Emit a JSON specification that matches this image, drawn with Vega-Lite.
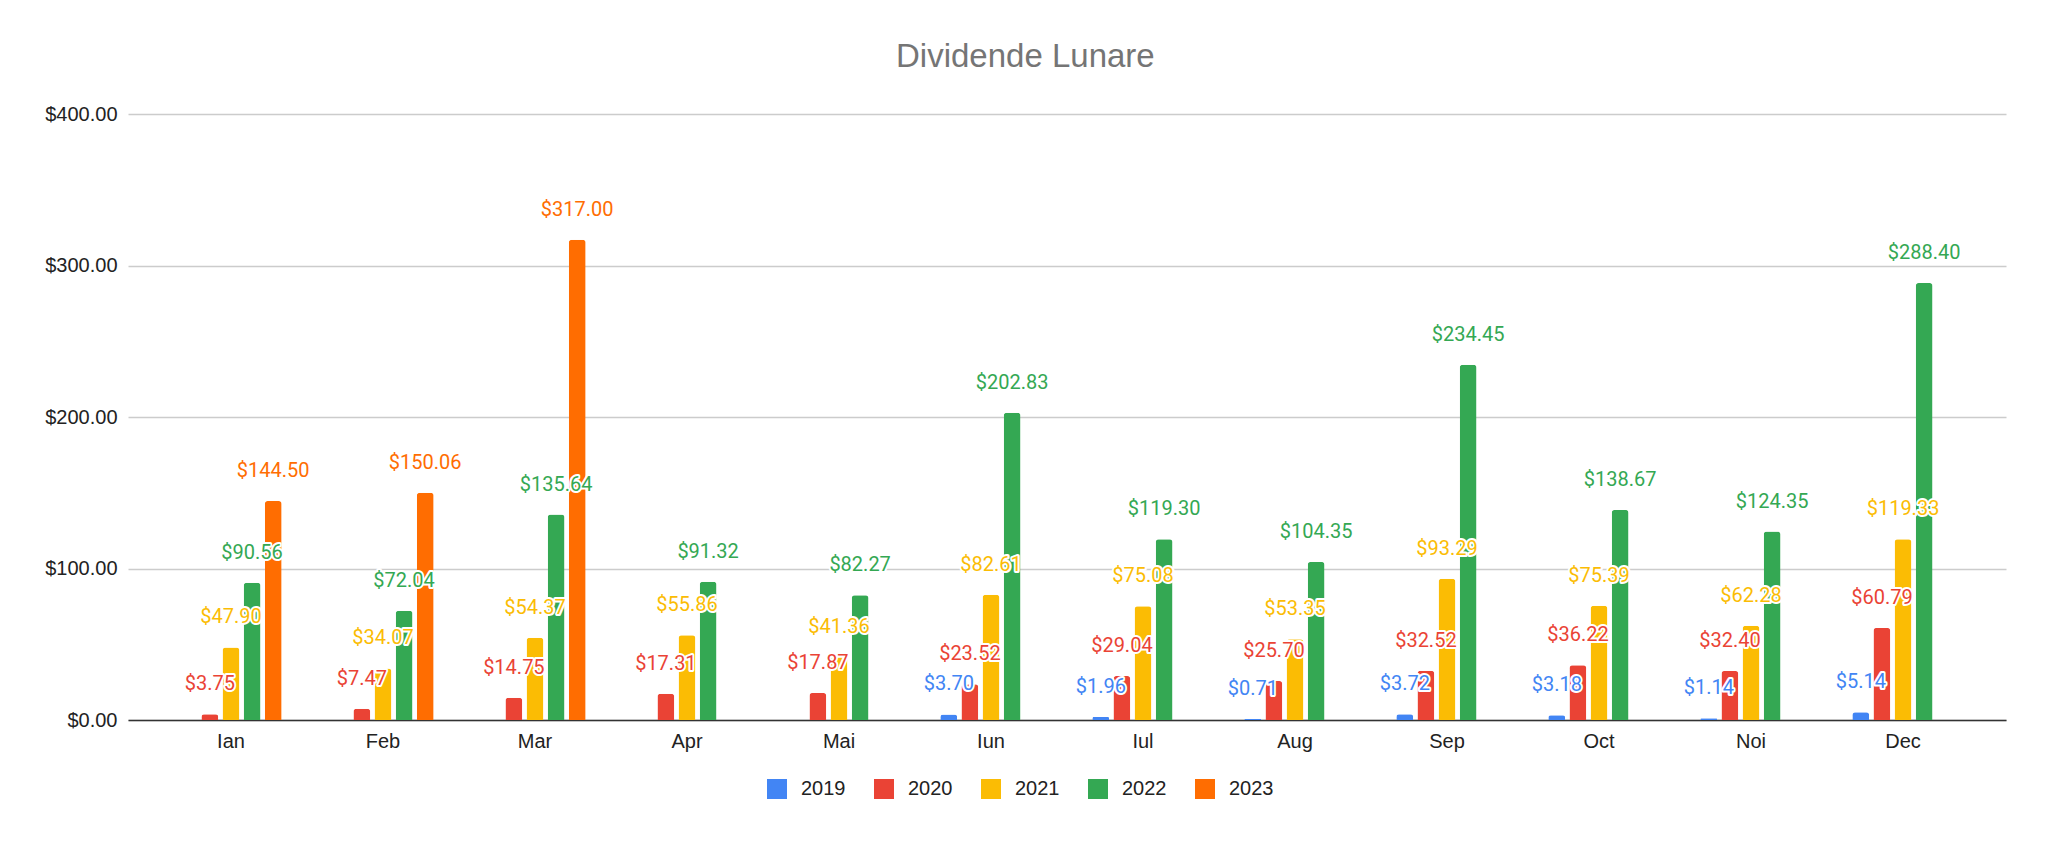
{
  "$schema": "https://vega.github.io/schema/vega-lite/v6.json",
  "width": 1878,
  "height": 606,
  "autosize": {"type": "none"},
  "padding": {"left": 128, "top": 114, "right": 42, "bottom": 121},
  "background": "white",
  "title": {
    "text": "Dividende Lunare",
    "font": "Liberation Sans",
    "fontSize": 33,
    "fontWeight": "normal",
    "color": "#757575",
    "anchor": "middle",
    "frame": "bounds",
    "offset": 30
  },
  "config": {"view": {"stroke": null}},
  "data": {
    "values": [
      {"luna": "Iun", "an": "2019", "v": 3.70},
      {"luna": "Iul", "an": "2019", "v": 1.96},
      {"luna": "Aug", "an": "2019", "v": 0.71},
      {"luna": "Sep", "an": "2019", "v": 3.72},
      {"luna": "Oct", "an": "2019", "v": 3.18},
      {"luna": "Noi", "an": "2019", "v": 1.14},
      {"luna": "Dec", "an": "2019", "v": 5.14},
      {"luna": "Ian", "an": "2020", "v": 3.75},
      {"luna": "Feb", "an": "2020", "v": 7.47},
      {"luna": "Mar", "an": "2020", "v": 14.75},
      {"luna": "Apr", "an": "2020", "v": 17.31},
      {"luna": "Mai", "an": "2020", "v": 17.87},
      {"luna": "Iun", "an": "2020", "v": 23.52},
      {"luna": "Iul", "an": "2020", "v": 29.04},
      {"luna": "Aug", "an": "2020", "v": 25.70},
      {"luna": "Sep", "an": "2020", "v": 32.52},
      {"luna": "Oct", "an": "2020", "v": 36.22},
      {"luna": "Noi", "an": "2020", "v": 32.40},
      {"luna": "Dec", "an": "2020", "v": 60.79},
      {"luna": "Ian", "an": "2021", "v": 47.90},
      {"luna": "Feb", "an": "2021", "v": 34.07},
      {"luna": "Mar", "an": "2021", "v": 54.37},
      {"luna": "Apr", "an": "2021", "v": 55.86},
      {"luna": "Mai", "an": "2021", "v": 41.36},
      {"luna": "Iun", "an": "2021", "v": 82.61},
      {"luna": "Iul", "an": "2021", "v": 75.08},
      {"luna": "Aug", "an": "2021", "v": 53.35},
      {"luna": "Sep", "an": "2021", "v": 93.29},
      {"luna": "Oct", "an": "2021", "v": 75.39},
      {"luna": "Noi", "an": "2021", "v": 62.28},
      {"luna": "Dec", "an": "2021", "v": 119.33},
      {"luna": "Ian", "an": "2022", "v": 90.56},
      {"luna": "Feb", "an": "2022", "v": 72.04},
      {"luna": "Mar", "an": "2022", "v": 135.64},
      {"luna": "Apr", "an": "2022", "v": 91.32},
      {"luna": "Mai", "an": "2022", "v": 82.27},
      {"luna": "Iun", "an": "2022", "v": 202.83},
      {"luna": "Iul", "an": "2022", "v": 119.30},
      {"luna": "Aug", "an": "2022", "v": 104.35},
      {"luna": "Sep", "an": "2022", "v": 234.45},
      {"luna": "Oct", "an": "2022", "v": 138.67},
      {"luna": "Noi", "an": "2022", "v": 124.35},
      {"luna": "Dec", "an": "2022", "v": 288.40},
      {"luna": "Ian", "an": "2023", "v": 144.50},
      {"luna": "Feb", "an": "2023", "v": 150.06},
      {"luna": "Mar", "an": "2023", "v": 317.00}
    ]
  },
  "encoding": {
    "x": {
      "field": "luna",
      "type": "nominal",
      "sort": ["Ian", "Feb", "Mar", "Apr", "Mai", "Iun", "Iul", "Aug", "Sep", "Oct", "Noi", "Dec"],
      "scale": {"paddingInner": 0.333, "paddingOuter": 0.344},
      "axis": {
        "title": null,
        "labelAngle": 0,
        "ticks": false,
        "grid": false,
        "domainColor": "#333333",
        "domainWidth": 1.5,
        "labelFont": "Liberation Sans",
        "labelFontSize": 20,
        "labelColor": "#222222",
        "labelPadding": 11
      }
    },
    "xOffset": {
      "field": "an",
      "type": "nominal",
      "scale": {"domain": ["2019", "2020", "2021", "2022", "2023"], "paddingInner": 0.2, "paddingOuter": 0}
    },
    "y": {
      "field": "v",
      "type": "quantitative",
      "scale": {"domain": [0, 400], "nice": false},
      "axis": {
        "title": null,
        "values": [0, 100, 200, 300, 400],
        "format": "$.2f",
        "domain": false,
        "ticks": false,
        "labelFont": "Liberation Sans",
        "labelFontSize": 20,
        "labelColor": "#222222",
        "labelPadding": 11,
        "gridColor": "#cccccc",
        "gridWidth": 1.5
      }
    },
    "color": {
      "field": "an",
      "type": "nominal",
      "scale": {
        "domain": ["2019", "2020", "2021", "2022", "2023"],
        "range": ["#4285F4", "#EA4335", "#FBBC04", "#34A853", "#FF6D01"]
      },
      "legend": {
        "orient": "none",
        "legendX": 639,
        "legendY": 665,
        "direction": "horizontal",
        "title": null,
        "symbolType": "square",
        "symbolSize": 400,
        "symbolStrokeWidth": 0,
        "symbolOpacity": 1,
        "labelFont": "Liberation Sans",
        "labelFontSize": 20,
        "labelColor": "#222222",
        "labelOffset": 14,
        "columnPadding": 28,
        "padding": 0
      }
    }
  },
  "layer": [
    {"mark": {"type": "bar", "cornerRadiusTopLeft": 3, "cornerRadiusTopRight": 3}},
    {
      "mark": {"type": "text", "font": "Roboto", "fontSize": 20, "baseline": "alphabetic", "dy": -24, "stroke": "white", "strokeWidth": 4, "strokeJoin": "round"},
      "encoding": {"text": {"field": "v", "type": "quantitative", "format": "$.2f"}, "color": {"value": "white"}}
    },
    {
      "mark": {"type": "text", "font": "Roboto", "fontSize": 20, "baseline": "alphabetic", "dy": -24},
      "encoding": {"text": {"field": "v", "type": "quantitative", "format": "$.2f"}}
    }
  ]
}
